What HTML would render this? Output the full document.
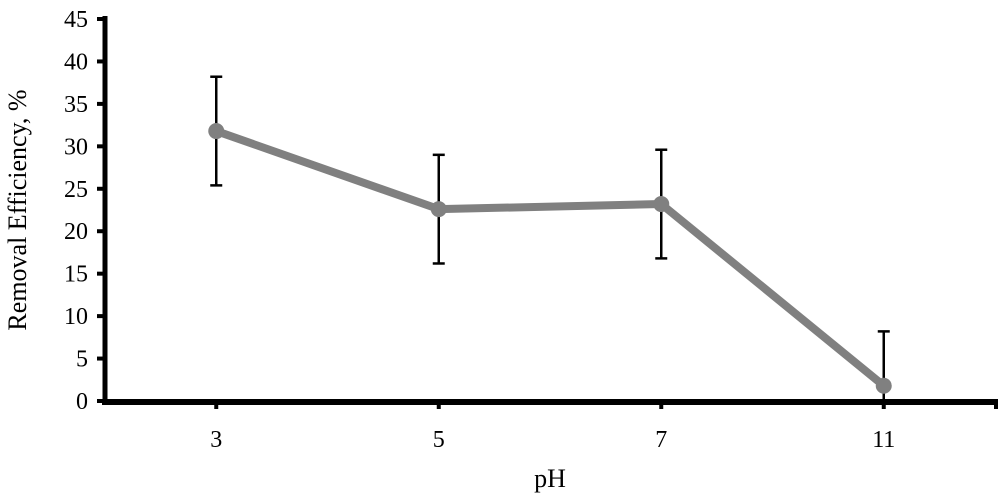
<!DOCTYPE html>
<html><head><meta charset="utf-8"><style>
body{margin:0;background:#fff}
text{font-family:"Liberation Serif",serif;fill:#000}
</style></head><body>
<svg width="1000" height="497">
<g id="axes"></g><g id="bars"></g><g id="series"></g>
</svg>
<script>
const categories=["3","5","7","11"];
const values=[31.8,22.6,23.2,1.8];
const errors=[6.4,6.4,6.4,6.4];
const yTicks=[0,5,10,15,20,25,30,35,40,45];
const ns="http://www.w3.org/2000/svg";
const X0=105,X1=995,Y0=401,Y1=19,YMAX=45;
const bw=(X1-X0)/categories.length;
const x=i=>X0+bw*(i+0.5);
const y=v=>Y0-(v/YMAX)*(Y0-Y1);
function mk(t,a,p){const e=document.createElementNS(ns,t);for(const k in a)e.setAttribute(k,a[k]);p.appendChild(e);return e;}
const ax=document.getElementById('axes'),br=document.getElementById('bars'),se=document.getElementById('series');
let e=mk('line',{x1:105,y1:16,x2:105,y2:405,stroke:'#000','stroke-width':5},ax);

e=mk('line',{x1:102,y1:402,x2:998,y2:402,stroke:'#000','stroke-width':6},ax);

yTicks.forEach(v=>{
 let t=mk('line',{x1:97,y1:y(v),x2:105,y2:y(v),stroke:'#000','stroke-width':4},ax);
 
 let l=mk('text',{x:88,y:y(v)+8,'text-anchor':'end','font-size':24},ax);l.textContent=v;
 
});
categories.forEach((c,i)=>{
 let t=mk('line',{x1:x(i),y1:400,x2:x(i),y2:409,stroke:'#000','stroke-width':4},ax);
 
 let l=mk('text',{x:x(i),y:447,'text-anchor':'middle','font-size':24},ax);l.textContent=c;
 
});
e=mk('line',{x1:996,y1:400,x2:996,y2:409,stroke:'#000','stroke-width':4},ax);

e=mk('text',{x:550,y:487,'text-anchor':'middle','font-size':26},ax);e.textContent='pH';

e=mk('text',{x:0,y:0,'text-anchor':'middle','font-size':26,transform:'translate(26,210) rotate(-90)'},ax);e.textContent='Removal Efficiency, %';

values.forEach((v,i)=>{
 const hi=v+errors[i],lo=Math.max(0,v-errors[i]);
 let g=mk('g',{},br);
 
 mk('line',{x1:x(i),y1:y(hi),x2:x(i),y2:y(lo),stroke:'#000','stroke-width':2.5},g);
 mk('line',{x1:x(i)-6,y1:y(hi),x2:x(i)+6,y2:y(hi),stroke:'#000','stroke-width':2.5},g);
 if(lo>0)mk('line',{x1:x(i)-6,y1:y(lo),x2:x(i)+6,y2:y(lo),stroke:'#000','stroke-width':2.5},g);
});
e=mk('polyline',{points:values.map((v,i)=>x(i)+','+y(v)).join(' '),fill:'none',stroke:'#808080','stroke-width':8,'stroke-linejoin':'round'},se);

values.forEach((v,i)=>{
 let c=mk('circle',{cx:x(i),cy:y(v),r:8,fill:'#808080'},se);
 
});
</script>
</body></html>
